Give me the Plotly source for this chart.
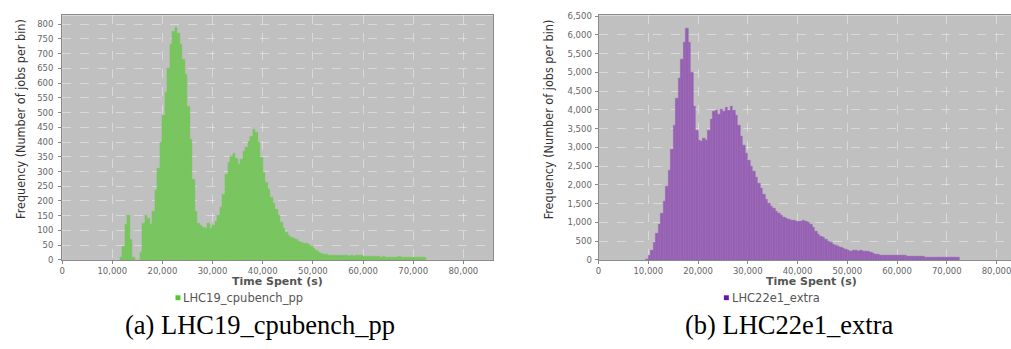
import numpy as np
import plotly.graph_objects as go

W, H = 1011, 349
BIN_WIDTH = 500

# ---- data ----
left_name = "LHC19_cpubench_pp"
left_bin_start = 11500
left_counts = [
    8, 45, 120, 152, 70, 8, 0, 0, 25, 125, 150, 142, 120, 165, 235, 310, 400, 490, 570, 650,
    730, 775, 790, 770, 730, 680, 630, 520, 410, 275, 165, 125, 116, 112, 108, 125, 108, 118, 132, 152,
    178, 222, 290, 332, 352, 362, 345, 325, 340, 368, 382, 402, 418, 442, 432, 398, 348, 298, 262, 238,
    212, 192, 172, 152, 128, 106, 94, 84, 78, 72, 68, 63, 60, 57, 55, 53, 47, 39, 31, 25,
    21, 19, 18, 17, 16, 17, 15, 15, 14, 15, 14, 13, 14, 13, 14, 15, 14, 13, 12, 12,
    11, 12, 11, 11, 10, 11, 10, 10, 9, 10, 10, 11, 10, 9, 10, 9, 9, 10, 9, 9,
    8, 8,
]

right_name = "LHC22e1_extra"
right_bin_start = 9500
right_counts = [
    20, 110, 260, 460, 700, 950, 1250, 1560, 1950, 2400, 2950, 3600, 4300, 4850, 5350, 5800, 6180, 5800, 5000, 4100,
    3450, 3200, 3150, 3250, 3180, 3450, 3750, 3950, 3980, 3880, 4020, 3950, 4060, 4000, 4100, 3980, 3850, 3600, 3300, 3050,
    2850, 2650, 2500, 2350, 2200, 2050, 1900, 1750, 1620, 1500, 1420, 1370, 1300, 1240, 1180, 1130, 1100, 1080, 1060, 1050,
    1040, 1030, 1020, 1050, 1030, 1000, 950, 860, 770, 690, 640, 600, 555, 500, 460, 420, 390, 355, 325, 295,
    270, 250, 240, 245, 252, 240, 250, 238, 228, 215, 190, 165, 150, 138, 128, 120, 115, 112, 120, 126,
    130, 128, 120, 114, 108, 104, 100, 95, 90, 88, 85, 82, 80, 78, 76, 75, 74, 72, 72, 70,
    70, 70, 68, 68, 66, 64,
]

x_ticks = [0, 10000, 20000, 30000, 40000, 50000, 60000, 70000, 80000]
left_y_ticks = list(range(0, 801, 50))
right_y_ticks = list(range(0, 6501, 500))

captions = ["(a) LHC19_cpubench_pp", "(b) LHC22e1_extra"]
x_title = "Time Spent (s)"
y_title = "Frequency (Number of jobs per bin)"

# ---- styles ----
GREEN_BAR = "#79c660"
GREEN_KEY = "#4ccc2c"
PURPLE_BAR = "#9660b4"
PURPLE_KEY = "#6a14a6"
BG = "#c0c0c0"
TICK_FONT = dict(family="DejaVu Sans", size=8.5, color="#666666")
GRID = "rgba(255,255,255,0.4)"


def px(x):
    return x / W


def py(y):
    return 1 - y / H


def centers(start, counts):
    return start + BIN_WIDTH * (np.arange(len(counts)) + 0.5)


fig = go.Figure()

fig.add_trace(go.Bar(x=centers(left_bin_start, left_counts), y=left_counts, width=BIN_WIDTH,
                     marker=dict(color=GREEN_BAR, line=dict(width=0.4, color=GREEN_BAR)), name=left_name,
                     xaxis="x", yaxis="y", showlegend=False))
fig.add_trace(go.Bar(x=centers(right_bin_start, right_counts), y=right_counts, width=BIN_WIDTH,
                     marker=dict(color=PURPLE_BAR, line=dict(width=0.4, color=PURPLE_BAR)), name=right_name,
                     xaxis="x2", yaxis="y2", showlegend=False))

L0, L1 = 59.3, 491.7
R0, R1 = 597.3, 1011
T, B = 11.7, 262.7
left_xmax = (L1 - L0) / 0.00503
right_xmax = (R1 - R0) / 0.00499

common_x = dict(
    tickvals=x_ticks, tickformat=",d", tickfont=TICK_FONT,
    showgrid=True, gridcolor=GRID, griddash="dash", gridwidth=1,
    ticks="outside", ticklen=3, tickcolor="#888888",
    showline=True, linecolor="#8a8a8a", linewidth=1, mirror=True,
    zeroline=False, fixedrange=True, ticklabeloverflow="allow",
)
common_y = dict(
    tickformat=",d", tickfont=TICK_FONT,
    showgrid=True, gridcolor=GRID, griddash="dash", gridwidth=1,
    ticks="outside", ticklen=3, tickcolor="#888888",
    showline=True, linecolor="#8a8a8a", linewidth=1,
    zeroline=False, fixedrange=True,
)

fig.update_layout(
    width=W, height=H, autosize=False,
    margin=dict(l=0, r=0, t=0, b=0),
    paper_bgcolor="white", plot_bgcolor=BG,
    bargap=0, showlegend=False,
    xaxis=dict(domain=[px(L0), px(L1)], range=[0, left_xmax], anchor="y", **common_x),
    yaxis=dict(domain=[py(B), py(T)], range=[0, 830], tickvals=left_y_ticks, anchor="x",
               ticklabelstandoff=3, mirror=True, **common_y),
    xaxis2=dict(domain=[px(R0), px(R1)], range=[0, right_xmax], anchor="y2", **common_x),
    yaxis2=dict(domain=[py(B), py(T)], range=[0, 6520], tickvals=right_y_ticks, anchor="x2",
                ticklabelstandoff=1, mirror=False, **common_y),
)

annotations = []
shapes = []
for cx, cap_x, cap, key_x, key_col, name in [
        (275, 258, captions[0], 173, GREEN_KEY, left_name),
        (810.5, 788.5, captions[1], 723, PURPLE_KEY, right_name)]:
    annotations.append(dict(text="<b>" + x_title + "</b>", x=px(cx), y=py(284.5), xref="paper", yref="paper",
                            showarrow=False, xanchor="center", yanchor="middle",
                            font=dict(family="DejaVu Sans", size=11, color="#555555")))
    annotations.append(dict(text=cap, x=px(cap_x), y=py(329),
                            xref="paper", yref="paper", showarrow=False, xanchor="center", yanchor="middle",
                            font=dict(family="Liberation Serif", size=26.5, color="black")))
    # legend: key square + label
    shapes.append(dict(type="rect", xref="paper", yref="paper",
                       x0=px(key_x), x1=px(key_x + 5), y0=py(304), y1=py(299),
                       fillcolor=key_col, line=dict(width=0)))
    annotations.append(dict(text=name, x=px(key_x + 6), y=py(302), xref="paper", yref="paper",
                            showarrow=False, xanchor="left", yanchor="middle",
                            font=dict(family="DejaVu Sans", size=11.5, color="#555555")))
for yx in [18, 548]:
    annotations.append(dict(text=y_title, x=px(yx), y=py(118), xref="paper", yref="paper",
                            showarrow=False, xanchor="center", yanchor="middle", textangle=-90,
                            font=dict(family="DejaVu Sans Condensed", size=12.5, color="#333333")))
fig.update_layout(annotations=annotations, shapes=shapes)

fig.write_html("out.html", config={"displayModeBar": False},
               post_script="document.body.style.margin='0';")
